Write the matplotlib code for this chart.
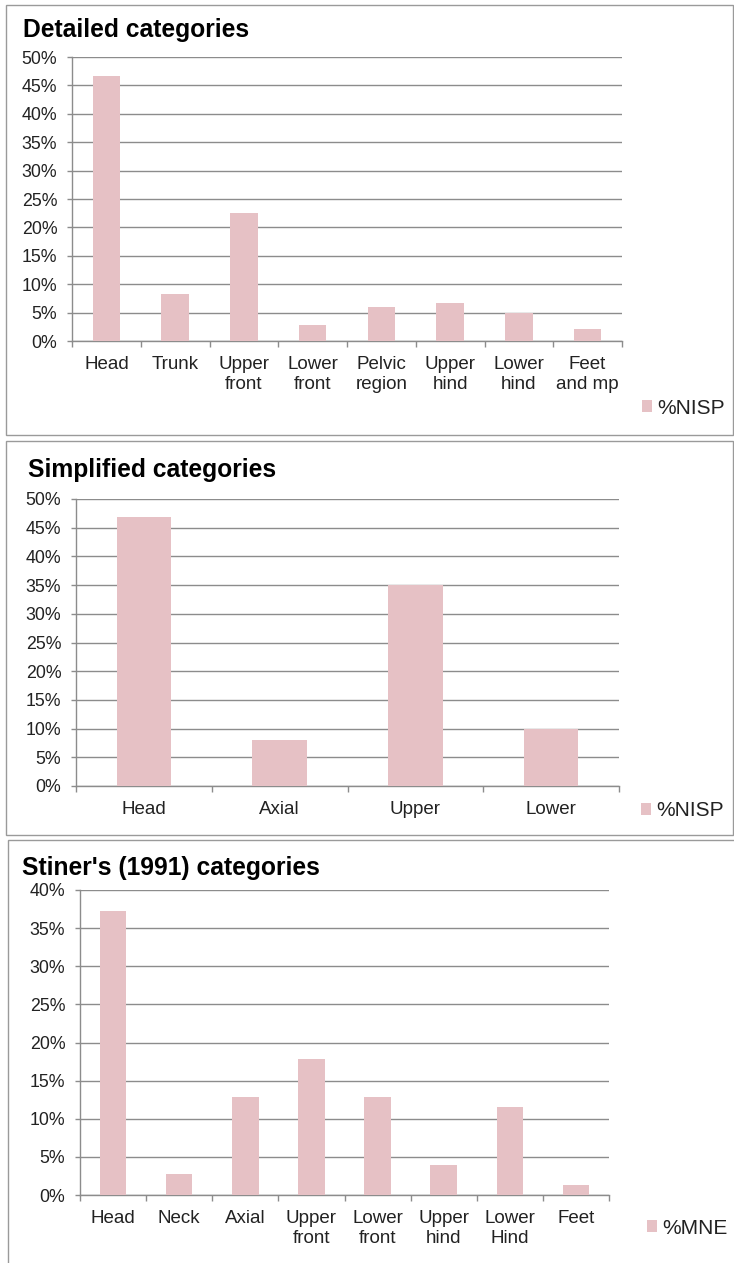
import matplotlib.pyplot as plt
import numpy as np
from matplotlib.patches import Rectangle
from matplotlib.ticker import FuncFormatter

plt.rcParams['font.family'] = ['Liberation Sans', 'DejaVu Sans']

# data (percent)
detailed_cats = ['Head', 'Trunk', 'Upper\nfront', 'Lower\nfront', 'Pelvic\nregion',
                 'Upper\nhind', 'Lower\nhind', 'Feet\nand mp']
detailed_nisp = [46.7, 8.3, 22.6, 2.8, 6.0, 6.7, 4.9, 2.1]

simple_cats = ['Head', 'Axial', 'Upper', 'Lower']
simple_nisp = [46.8, 8.1, 35.0, 9.9]

stiner_cats = ['Head', 'Neck', 'Axial', 'Upper\nfront', 'Lower\nfront',
               'Upper\nhind', 'Lower\nHind', 'Feet']
stiner_mne = [37.2, 2.7, 12.9, 17.9, 12.9, 3.9, 11.6, 1.3]

W, H = 734, 1263
BAR = '#e6c1c5'
GRID = '#8c8c8c'

fig = plt.figure(figsize=(W / 100, H / 100), dpi=100)


def px_axes(left, right, top, bottom):
    return fig.add_axes([left / W, 1 - bottom / H, (right - left) / W, (bottom - top) / H])


def panel(box, ax_box, title, title_xy, cats, vals, ymax, legend_label, leg_xy):
    # panel border
    x0, y0, x1, y1 = box
    fig.patches.append(Rectangle((x0 / W, 1 - y1 / H), (x1 - x0) / W, (y1 - y0) / H,
                                 transform=fig.transFigure, fill=False,
                                 edgecolor='#9a9a9a', lw=1.0))
    fig.text(title_xy[0] / W, 1 - title_xy[1] / H, title, fontsize=17.7, fontweight='bold',
             va='center', ha='left')

    ax = px_axes(*ax_box)
    x = np.arange(len(cats))
    ax.bar(x, vals, width=0.4, color=BAR, label=legend_label, zorder=3)
    ax.set_xlim(-0.5, len(cats) - 0.5)
    ax.set_ylim(0, ymax)
    ax.set_yticks(np.arange(0, ymax + 1, 5))
    ax.yaxis.set_major_formatter(FuncFormatter(lambda v, p: '%d%%' % v))
    ax.grid(axis='y', color=GRID, lw=1.0, zorder=0)
    for s in ['top', 'right']:
        ax.spines[s].set_visible(False)
    for s in ['left', 'bottom']:
        ax.spines[s].set_color(GRID)
        ax.spines[s].set_linewidth(1.0)
    ax.set_xticks(x)
    ax.set_xticklabels(cats, fontsize=13.5, color='#222222')
    for lab in ax.get_xticklabels():
        lab.set_linespacing(1.3)
    ax.set_xticks(np.arange(-0.5, len(cats)), minor=True)
    ax.tick_params(axis='x', which='major', length=0, pad=10.5)
    ax.tick_params(axis='x', which='minor', length=4, color=GRID, width=1.0)
    ax.tick_params(axis='y', length=3.6, color=GRID, width=1.0, pad=7, labelsize=12.8,
                   labelcolor='#222222')
    ax.legend(loc='center left', bbox_to_anchor=(leg_xy[0] / W, 1 - leg_xy[1] / H),
              bbox_transform=fig.transFigure, frameon=False, fontsize=15,
              handlelength=0.5, handleheight=0.5, handletextpad=0.25,
              borderpad=0, borderaxespad=0, labelcolor='#222222')
    return ax


panel((6, 5, 733, 435), (72, 622, 57, 341), 'Detailed categories', (23, 30),
      detailed_cats, detailed_nisp, 50, '%NISP', (642, 408))
panel((6, 441, 733, 835), (76, 619, 499, 786), 'Simplified categories', (28, 470),
      simple_cats, simple_nisp, 50, '%NISP', (641, 811))
panel((8, 840, 740, 1270), (80, 609, 890, 1195), "Stiner's (1991) categories", (22, 868),
      stiner_cats, stiner_mne, 40, '%MNE', (647, 1228))

plt.savefig('out.png', dpi=100)
